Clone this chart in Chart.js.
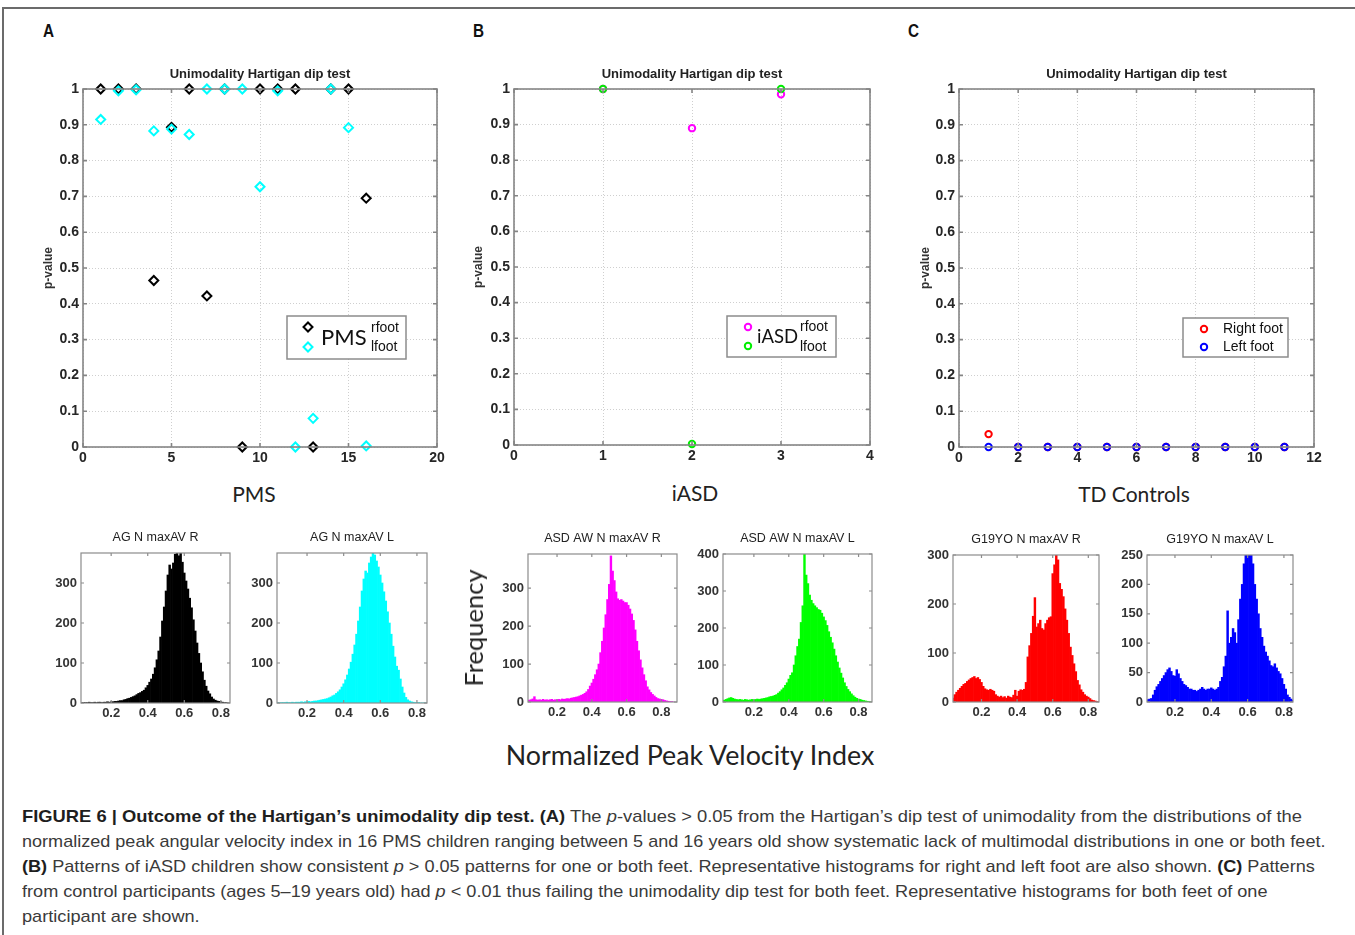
<!DOCTYPE html>
<html>
<head>
<meta charset="utf-8">
<title>Hartigan dip test</title>
<script src="https://cdn.jsdelivr.net/npm/chart.js@4.4.1/dist/chart.umd.min.js"></script>
<style>
  body { margin: 0; background: #fff; }
  #page { position: relative; width: 1355px; height: 935px; overflow: hidden; background: #fff; font-family: "Liberation Sans", Arial, sans-serif; }
  #frame { position: absolute; left: 2px; top: 7px; width: 1400px; height: 1000px; border-top: 2px solid #6b6b6b; border-left: 2px solid #6b6b6b; }
  canvas { position: absolute; }
  .panel { position: absolute; font: bold 18px "Liberation Sans", Arial, sans-serif; color: #111; transform: scaleX(0.85); }
  .group { position: absolute; font: 21px Lato, sans-serif; color: #222; transform: translateX(-50%); white-space: nowrap; line-height: 24px; }
  .big { position: absolute; font: 26.8px Lato, sans-serif; color: #222; white-space: nowrap; line-height: 30px; }
  .cap { position: absolute; left: 22px; white-space: nowrap; font-size: 17px; line-height: 24px; color: #3a3a3a; transform-origin: 0 50%; }
  .cap b { color: #1e1e1e; }
</style>
</head>
<body>
<div id="page">
  <div id="frame"></div>

  <div class="panel" style="left:42px;top:21px">A</div>
  <div class="panel" style="left:472px;top:21px">B</div>
  <div class="panel" style="left:907px;top:21px">C</div>

  <canvas id="scatterA" width="420" height="425" style="left:30px;top:55px"></canvas>
  <canvas id="scatterB" width="420" height="425" style="left:460px;top:55px"></canvas>
  <canvas id="scatterC" width="430" height="425" style="left:905px;top:55px"></canvas>

  <div class="group" style="left:254px;top:482px">PMS</div>
  <div class="group" style="left:695px;top:481px">iASD</div>
  <div class="group" style="left:1134px;top:482px">TD Controls</div>

  <canvas id="histAR" width="200" height="200" style="left:40px;top:525px"></canvas>
  <canvas id="histAL" width="200" height="200" style="left:236px;top:525px"></canvas>
  <canvas id="histBR" width="200" height="200" style="left:487px;top:525px"></canvas>
  <canvas id="histBL" width="200" height="200" style="left:682px;top:525px"></canvas>
  <canvas id="histCR" width="197" height="200" style="left:912px;top:525px"></canvas>
  <canvas id="histCL" width="197" height="200" style="left:1106px;top:525px"></canvas>

  <div class="big" style="left:473px;top:628px;font-size:25.5px;transform:translate(-50%,-50%) rotate(-90deg)">Frequency</div>
  <div class="big" style="left:690px;top:740px;transform:translateX(-50%)">Normalized Peak Velocity Index</div>

  <div class="cap" data-w="1280" style="top:805px"><b>FIGURE 6 | Outcome of the Hartigan’s unimodality dip test. (A)</b> The <i>p</i>-values &gt; 0.05 from the Hartigan’s dip test of unimodality from the distributions of the</div>
  <div class="cap" data-w="1304" style="top:830px">normalized peak angular velocity index in 16 PMS children ranging between 5 and 16 years old show systematic lack of multimodal distributions in one or both feet.</div>
  <div class="cap" data-w="1293" style="top:855px"><b>(B)</b> Patterns of iASD children show consistent <i>p</i> &gt; 0.05 patterns for one or both feet. Representative histograms for right and left foot are also shown. <b>(C)</b> Patterns</div>
  <div class="cap" data-w="1245" style="top:880px">from control participants (ages 5–19 years old) had <i>p</i> &lt; 0.01 thus failing the unimodality dip test for both feet. Representative histograms for both feet of one</div>
  <div class="cap" style="top:905px">participant are shown.</div>
</div>

<script>
// ---- dip test p-values (one point per child) ----
const pmsSubjects = [1, 2, 3, 4, 5, 6, 7, 8, 9, 10, 11, 12, 13, 14, 15, 16];
const pmsRfoot = [1, 1, 1, 0.465, 0.893, 1, 0.422, 1, 0, 1, 1, 1, 0, 1, 1, 0.695];
const pmsLfoot = [0.915, 0.995, 0.998, 0.883, 0.888, 0.873, 1, 1, 1, 0.727, 0.995, 0, 0.08, 1, 0.892, 0.003];

const iasdSubjects = [1, 2, 3];
const iasdRfoot = [1, 0.89, 0.985];
const iasdLfoot = [1, 0.003, 1];

const tdSubjects = [1, 2, 3, 4, 5, 6, 7, 8, 9, 10, 11];
const tdRight = [0.036, 0, 0, 0, 0, 0, 0, 0, 0, 0, 0];
const tdLeft = [0, 0, 0, 0, 0, 0, 0, 0, 0, 0, 0];

const pTicks = [0, 0.1, 0.2, 0.3, 0.4, 0.5, 0.6, 0.7, 0.8, 0.9, 1];
const pmsXTicks = [0, 5, 10, 15, 20];
const iasdXTicks = [0, 1, 2, 3, 4];
const tdXTicks = [0, 2, 4, 6, 8, 10, 12];
const dipTitle = 'Unimodality Hartigan dip test';

// ---- histograms of normalized peak velocity index ----
const binCenters = [
  0.01, 0.02, 0.03, 0.04, 0.05, 0.06, 0.07, 0.08, 0.09,
  0.10, 0.11, 0.12, 0.13, 0.14, 0.15, 0.16, 0.17, 0.18, 0.19,
  0.20, 0.21, 0.22, 0.23, 0.24, 0.25, 0.26, 0.27, 0.28, 0.29,
  0.30, 0.31, 0.32, 0.33, 0.34, 0.35, 0.36, 0.37, 0.38, 0.39,
  0.40, 0.41, 0.42, 0.43, 0.44, 0.45, 0.46, 0.47, 0.48, 0.49,
  0.50, 0.51, 0.52, 0.53, 0.54, 0.55, 0.56, 0.57, 0.58, 0.59,
  0.60, 0.61, 0.62, 0.63, 0.64, 0.65, 0.66, 0.67, 0.68, 0.69,
  0.70, 0.71, 0.72, 0.73, 0.74, 0.75, 0.76, 0.77, 0.78, 0.79,
  0.80, 0.81, 0.82, 0.83, 0.84, 0.85, 0.86, 0.87
];
const agRight = [
  0, 0, 0, 1, 1, 1, 1, 2, 1,
  1, 2, 1, 2, 2, 1, 2, 2, 3, 2,
  3, 3, 4, 4, 5, 6, 6, 8, 9, 11,
  12, 14, 16, 18, 21, 24, 26, 29, 32, 38,
  44, 52, 60, 72, 88, 108, 130, 165, 205, 240,
  280, 320, 345, 335, 350, 372, 390, 368, 385, 352,
  325, 305, 285, 262, 238, 208, 180, 150, 124, 100,
  78, 57, 42, 30, 23, 15, 10, 7, 5, 4,
  3, 2, 1, 1, 0, 0, 0, 0
];
const agLeft = [
  0, 0, 0, 1, 0, 1, 1, 1, 2,
  1, 1, 2, 1, 2, 2, 2, 3, 2, 3,
  3, 4, 3, 4, 5, 5, 6, 7, 8, 9,
  10, 11, 13, 15, 18, 20, 24, 28, 33, 40,
  48, 58, 70, 85, 102, 122, 145, 172, 205, 240,
  280, 310, 330, 325, 350, 365, 375, 370, 355, 340,
  320, 300, 278, 255, 228, 200, 172, 142, 115, 92,
  82, 60, 40, 25, 14, 8, 5, 3, 2, 1,
  1, 1, 0, 0, 0, 0, 0, 0
];
const asdRight = [
  0, 0, 0, 5, 6, 8, 14, 6, 5,
  6, 5, 7, 5, 6, 5, 6, 7, 5, 6,
  6, 7, 6, 8, 7, 8, 9, 8, 10, 11,
  12, 13, 14, 16, 18, 20, 23, 27, 33, 42,
  50, 60, 72, 85, 100, 130, 160, 195, 230, 270,
  310, 385, 345, 320, 290, 272, 268, 270, 266, 262,
  262, 255, 245, 232, 215, 190, 160, 135, 111, 90,
  72, 56, 40, 32, 25, 20, 16, 12, 9, 8,
  7, 6, 4, 3, 2, 1, 1, 0
];
const asdLeft = [
  0, 0, 5, 7, 9, 11, 12, 10, 8,
  7, 6, 7, 6, 5, 7, 6, 5, 6, 7,
  6, 7, 8, 7, 8, 9, 10, 11, 12, 14,
  15, 16, 18, 20, 24, 28, 33, 38, 45, 52,
  62, 72, 79, 100, 125, 150, 170, 215, 260, 400,
  343, 320, 289, 275, 266, 260, 255, 250, 248, 240,
  230, 220, 207, 190, 175, 160, 143, 125, 108, 92,
  78, 65, 52, 42, 34, 28, 22, 17, 13, 10,
  8, 7, 5, 4, 3, 2, 1, 0
];
const tdRightHist = [
  0, 0, 0, 8, 15, 20, 24, 28, 32,
  36, 38, 42, 45, 48, 50, 52, 48, 50, 46,
  40, 32, 27, 25, 24, 26, 24, 22, 15, 12,
  10, 12, 9, 11, 8, 12, 10, 9, 14, 24,
  12, 22, 25, 24, 26, 40, 92, 115, 140, 175,
  213, 153, 160, 167, 150, 147, 160, 167, 172, 174,
  262, 280, 300, 290, 242, 230, 215, 190, 167, 140,
  112, 95, 78, 62, 44, 35, 25, 20, 15, 12,
  10, 7, 4, 3, 2, 1, 0, 0
];
const tdLeftHist = [
  0, 0, 0, 0, 4, 5, 6, 12, 20,
  26, 30, 35, 40, 45, 50, 55, 58, 52, 45,
  44, 55, 48, 40, 35, 30, 28, 25, 22, 22,
  20, 20, 18, 20, 22, 25, 22, 20, 22, 22,
  24, 22, 20, 22, 25, 35, 42, 60, 78, 155,
  100, 110, 125, 118, 100, 140, 175, 200, 235, 255,
  262, 255, 265, 235, 200, 175, 150, 125, 110, 95,
  85, 78, 70, 62, 60, 65, 58, 52, 48, 40,
  30, 22, 12, 8, 5, 3, 1, 0
];
const histXTicks = [0.2, 0.4, 0.6, 0.8];
const countTicks300 = [0, 100, 200, 300];
const countTicks400 = [0, 100, 200, 300, 400];
const countTicks250 = [0, 50, 100, 150, 200, 250];

Chart.defaults.font.family = '"Liberation Sans", Arial, sans-serif';

// MATLAB-like box round the plot area, with inward tick marks on all four sides
const matlabBox = {
  id: 'matlabBox',
  afterDatasetsDraw(chart, args, o) {
    const { ctx, chartArea: a, scales } = chart;
    const t = o.tick || 4;
    ctx.save();
    ctx.strokeStyle = o.color || '#808080';
    ctx.lineWidth = o.width || 1.5;
    ctx.beginPath();
    scales.x.ticks.forEach(tk => {
      const px = scales.x.getPixelForValue(tk.value);
      ctx.moveTo(px, a.bottom); ctx.lineTo(px, a.bottom - t);
      ctx.moveTo(px, a.top); ctx.lineTo(px, a.top + t);
    });
    scales.y.ticks.forEach(tk => {
      const py = scales.y.getPixelForValue(tk.value);
      ctx.moveTo(a.left, py); ctx.lineTo(a.left + t, py);
      ctx.moveTo(a.right, py); ctx.lineTo(a.right - t, py);
    });
    ctx.stroke();
    ctx.strokeRect(a.left, a.top, a.right - a.left, a.bottom - a.top);
    ctx.restore();
  }
};

// title centred over the plot area (not the whole canvas)
const areaTitle = {
  id: 'areaTitle',
  afterDraw(chart, args, o) {
    if (!o.text) return;
    const { ctx, chartArea: a } = chart;
    ctx.save();
    ctx.font = o.font;
    ctx.fillStyle = o.color;
    ctx.textAlign = 'center';
    ctx.textBaseline = 'middle';
    ctx.fillText(o.text, (a.left + a.right) / 2, a.top - o.gap);
    ctx.restore();
  }
};

function drawMarker(ctx, ds, x, y) {
  const r = ds.pointRadius;
  ctx.strokeStyle = ds.pointBorderColor;
  ctx.lineWidth = ds.pointBorderWidth;
  ctx.beginPath();
  if (ds.pointStyle === 'rectRot') {
    ctx.moveTo(x, y - r); ctx.lineTo(x + r, y); ctx.lineTo(x, y + r); ctx.lineTo(x - r, y); ctx.closePath();
  } else {
    ctx.arc(x, y, r, 0, Math.PI * 2);
  }
  ctx.stroke();
}

// boxed legend drawn inside the plot, like the MATLAB one
const boxLegend = {
  id: 'boxLegend',
  afterDraw(chart, args, o) {
    if (!o.box) return;
    const { ctx, chartArea: a } = chart;
    const x0 = a.left + o.box[0], y0 = a.top + o.box[1];
    ctx.save();
    ctx.fillStyle = '#fff';
    ctx.fillRect(x0, y0, o.box[2], o.box[3]);
    ctx.strokeStyle = '#8c8c8c';
    ctx.lineWidth = 1.5;
    ctx.strokeRect(x0, y0, o.box[2], o.box[3]);
    o.marks.forEach((m, i) => drawMarker(ctx, chart.data.datasets[i], x0 + m[0], y0 + m[1]));
    ctx.fillStyle = '#111';
    ctx.textAlign = 'left';
    ctx.textBaseline = 'middle';
    o.texts.forEach(t => {
      ctx.font = t.font;
      ctx.fillText(t.text, x0 + t.at[0], y0 + t.at[1]);
    });
    ctx.restore();
  }
};

function pointSet(label, xs, ys, color, shape, radius, order) {
  return {
    label: label,
    data: xs.map((x, i) => ({ x: x, y: ys[i] })),
    pointStyle: shape,
    pointRadius: radius,
    pointBorderWidth: 2,
    pointBorderColor: color,
    pointBackgroundColor: 'rgba(0,0,0,0)',
    borderColor: color,
    showLine: false,
    clip: false,
    order: order
  };
}

function scatterPanel(id, datasets, look) {
  return new Chart(document.getElementById(id), {
    type: 'scatter',
    data: { datasets: datasets },
    options: {
      responsive: false,
      animation: false,
      events: [],
      layout: { padding: { top: 34, right: look.padRight, left: 0, bottom: 0 } },
      plugins: {
        legend: { display: false },
        tooltip: { enabled: false },
        areaTitle: { text: dipTitle, font: 'bold 13px "Liberation Sans"', color: '#222', gap: 15 },
        matlabBox: { color: '#858585', width: 1.6, tick: 4 },
        boxLegend: look.legend
      },
      scales: {
        x: {
          type: 'linear', min: 0, max: look.xMax,
          afterBuildTicks: s => { s.ticks = look.xTicks.map(v => ({ value: v })); },
          grid: { color: '#cfcfcf', drawTicks: false },
          border: { display: false, dash: [1, 2] },
          ticks: { font: { size: 14, weight: 'bold' }, color: '#262626', padding: 3, maxRotation: 0, callback: v => String(v) },
          afterFit: s => { s.height = look.xHeight; }
        },
        y: {
          min: 0, max: 1,
          afterBuildTicks: s => { s.ticks = pTicks.map(v => ({ value: v })); },
          grid: { color: '#cfcfcf', drawTicks: false },
          border: { display: false, dash: [1, 2] },
          ticks: { font: { size: 14, weight: 'bold' }, color: '#262626', padding: 4, callback: v => String(v) },
          title: { display: true, text: 'p-value', font: { size: 12, weight: 'bold' }, color: '#333', padding: { top: look.titlePad, bottom: 0 } },
          afterFit: s => { s.width = look.yWidth; }
        }
      }
    },
    plugins: [matlabBox, areaTitle, boxLegend]
  });
}

function histPanel(id, counts, color, look) {
  return new Chart(document.getElementById(id), {
    type: 'bar',
    data: {
      datasets: [{
        data: binCenters.map((x, i) => ({ x: x, y: counts[i] })),
        backgroundColor: color,
        borderWidth: 0,
        barPercentage: 1,
        categoryPercentage: 1,
        clip: 0
      }]
    },
    options: {
      responsive: false,
      animation: false,
      events: [],
      layout: { padding: { top: look.padTop, right: look.padRight, left: 0, bottom: 0 } },
      plugins: {
        legend: { display: false },
        tooltip: { enabled: false },
        areaTitle: { text: look.title, font: '12.5px "Liberation Sans"', color: '#222', gap: 15 },
        matlabBox: { color: '#8c8c8c', width: 1.2, tick: 3 }
      },
      scales: {
        x: {
          type: 'linear', min: look.xMin, max: look.xMax, offset: false,
          afterBuildTicks: s => { s.ticks = histXTicks.map(v => ({ value: v })); },
          grid: { display: false, drawTicks: false },
          border: { display: false },
          ticks: { font: { size: 13, weight: 'bold' }, color: '#333', padding: 3, maxRotation: 0, callback: v => String(v) },
          afterFit: s => { s.height = look.xHeight; }
        },
        y: {
          min: 0, max: look.yMax,
          afterBuildTicks: s => { s.ticks = look.yTicks.map(v => ({ value: v })); },
          grid: { display: false, drawTicks: false },
          border: { display: false },
          ticks: { font: { size: 13, weight: 'bold' }, color: '#333', padding: 4, callback: v => String(v) },
          afterFit: s => { s.width = 41; }
        }
      }
    },
    plugins: [matlabBox, areaTitle]
  });
}

const calibri = '22px Lato, sans-serif';
const small = '14px "Liberation Sans"';

scatterPanel('scatterA', [
  pointSet('rfoot', pmsSubjects, pmsRfoot, '#000000', 'rectRot', 4.5, 1),
  pointSet('lfoot', pmsSubjects, pmsLfoot, '#00ffff', 'rectRot', 4.5, 0)
], {
  xMax: 20, xTicks: pmsXTicks, yWidth: 53, xHeight: 33, padRight: 13, titlePad: 11,
  legend: {
    box: [204, 227, 119, 43],
    marks: [[21, 11], [21, 31]],
    texts: [
      { text: 'PMS', font: calibri, at: [34, 22] },
      { text: 'rfoot', font: small, at: [84, 12] },
      { text: 'lfoot', font: small, at: [84, 31] }
    ]
  }
});

scatterPanel('scatterB', [
  pointSet('rfoot', iasdSubjects, iasdRfoot, '#ff00ff', 'circle', 3.2, 1),
  pointSet('lfoot', iasdSubjects, iasdLfoot, '#00ee00', 'circle', 3.2, 0)
], {
  xMax: 4, xTicks: iasdXTicks, yWidth: 54, xHeight: 35, padRight: 10, titlePad: 11,
  legend: {
    box: [213, 227, 109, 41],
    marks: [[21, 11], [21, 30]],
    texts: [
      { text: 'iASD', font: '18.5px Lato, sans-serif', at: [30, 21] },
      { text: 'rfoot', font: small, at: [73, 11] },
      { text: 'lfoot', font: small, at: [73, 31] }
    ]
  }
});

scatterPanel('scatterC', [
  pointSet('Right foot', tdSubjects, tdRight, '#ff0000', 'circle', 3.2, 1),
  pointSet('Left foot', tdSubjects, tdLeft, '#0000ff', 'circle', 3.2, 0)
], {
  xMax: 12, xTicks: tdXTicks, yWidth: 54, xHeight: 33, padRight: 21, titlePad: 13,
  legend: {
    box: [224, 229, 105, 39],
    marks: [[21, 11], [21, 29]],
    texts: [
      { text: 'Right foot', font: small, at: [40, 11] },
      { text: 'Left foot', font: small, at: [40, 29] }
    ]
  }
});

histPanel('histAR', agRight, '#000000', { title: 'AG N maxAV R', xMin: 0.035, xMax: 0.85, yMax: 375, yTicks: countTicks300, padTop: 28, padRight: 10, xHeight: 22 });
histPanel('histAL', agLeft, '#00ffff', { title: 'AG N maxAV L', xMin: 0.036, xMax: 0.855, yMax: 375, yTicks: countTicks300, padTop: 28, padRight: 9, xHeight: 22 });
histPanel('histBR', asdRight, '#ff00ff', { title: 'ASD AW N maxAV R', xMin: 0.033, xMax: 0.89, yMax: 390, yTicks: countTicks300, padTop: 29, padRight: 10, xHeight: 23 });
histPanel('histBL', asdLeft, '#00ff00', { title: 'ASD AW N maxAV L', xMin: 0.023, xMax: 0.877, yMax: 400, yTicks: countTicks400, padTop: 29, padRight: 10, xHeight: 23 });
histPanel('histCR', tdRightHist, '#ff0000', { title: 'G19YO N maxAV R', xMin: 0.04, xMax: 0.86, yMax: 300, yTicks: countTicks300, padTop: 30, padRight: 10, xHeight: 23 });
histPanel('histCL', tdLeftHist, '#0000ff', { title: 'G19YO N maxAV L', xMin: 0.046, xMax: 0.85, yMax: 250, yTicks: countTicks250, padTop: 30, padRight: 10, xHeight: 23 });

// stretch each caption line to the width it has in the figure
const capLines = Array.from(document.querySelectorAll('.cap'));
const factors = [];
capLines.forEach(el => {
  if (!el.dataset.w) return;
  const k = Number(el.dataset.w) / el.offsetWidth;
  factors.push(k);
  el.style.transform = 'scaleX(' + k + ')';
});
const meanK = factors.reduce((s, k) => s + k, 0) / factors.length;
capLines.forEach(el => { if (!el.dataset.w) el.style.transform = 'scaleX(' + meanK + ')'; });
</script>
</body>
</html>
